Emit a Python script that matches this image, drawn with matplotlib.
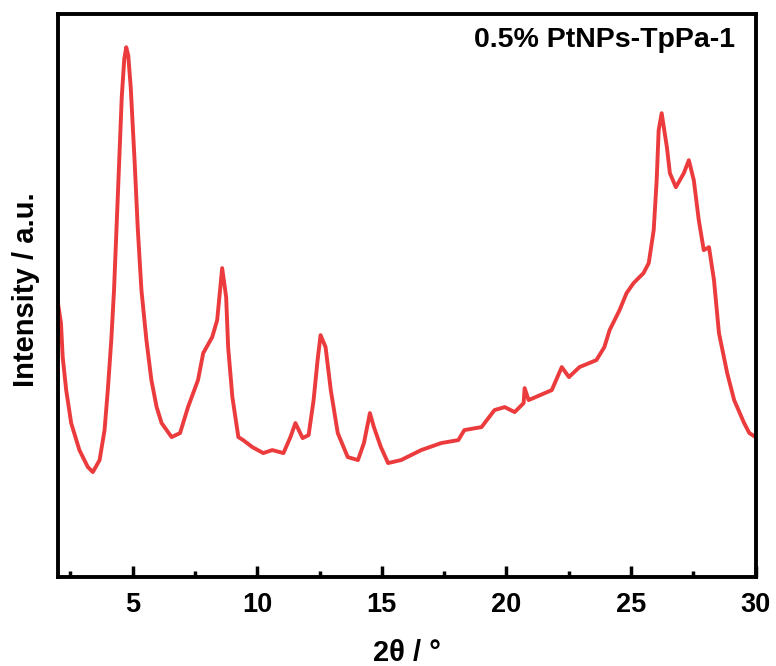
import matplotlib
matplotlib.use("Agg")
import matplotlib.pyplot as plt
from matplotlib.ticker import MultipleLocator

plt.rcParams['font.family'] = ['Liberation Sans', 'DejaVu Sans']
plt.rcParams['font.weight'] = 'bold'

two_theta = [2.00, 2.12, 2.19, 2.33, 2.53, 2.86, 3.20, 3.40, 3.67, 3.87, 4.00,
             4.14, 4.25, 4.40, 4.56, 4.66, 4.74, 4.82, 4.92, 5.08, 5.20, 5.35,
             5.55, 5.75, 5.96, 6.16, 6.56, 6.90, 7.22, 7.62, 7.83,
             8.19, 8.39, 8.59, 8.75, 8.83, 9.00, 9.24, 9.43, 9.80, 10.24, 10.6,
             11.05, 11.33, 11.53, 11.82, 12.06, 12.26, 12.42, 12.54, 12.74,
             12.95, 13.23, 13.63, 14.04, 14.28, 14.52, 14.68, 14.96, 15.25,
             15.77, 16.58, 17.38, 18.07, 18.31, 19.00, 19.52, 19.93, 20.33,
             20.69, 20.73, 20.89, 21.82, 22.22, 22.51, 22.93, 23.61, 23.93,
             24.14, 24.34, 24.54, 24.82, 25.10, 25.50, 25.71, 25.91, 26.03,
             26.11, 26.23, 26.44, 26.56, 26.80, 27.12, 27.32, 27.52, 27.72,
             27.92, 28.13, 28.33, 28.53, 28.86, 29.14, 29.54, 29.75, 30.00]
intensity = [274, 254, 220, 187, 154, 127, 110, 105, 117, 147, 187,
             237, 287, 380, 480, 518, 530, 522, 490, 414, 350, 287,
             237, 197, 170, 154, 140, 144, 170, 197, 224,
             240, 257, 309, 280, 230, 180, 140, 137, 130, 124, 127,
             124, 140, 154, 139, 142, 177, 217, 242, 230,
             187, 144, 120, 117, 134, 164, 150, 130, 114,
             117, 127, 134, 137, 147, 150, 167, 170, 165,
             174, 189, 177, 187, 210, 200, 210, 217, 230,
             247, 257, 267, 284, 294, 304, 314, 347, 397,
             447, 464, 430, 404, 390, 404, 417, 397, 357,
             327, 330, 297, 244, 204, 177, 154, 144, 140]

fig = plt.figure(figsize=(7.76, 6.66), dpi=100)
ax = fig.add_axes([0.0747, 0.1336, 0.899, 0.845])

ax.plot(two_theta, intensity, color='#EB3B3D', linewidth=2.8)

ax.set_xlim(2, 30)
ax.set_ylim(0, 563)
ax.xaxis.set_major_locator(MultipleLocator(5))
ax.xaxis.set_minor_locator(MultipleLocator(2.5))
ax.tick_params(axis='x', which='major', direction='in', length=8, width=2.5,
               labelsize=19.5, pad=11)
ax.tick_params(axis='x', which='minor', direction='in', length=4, width=2.5)
ax.set_yticks([])
for s in ax.spines.values():
    s.set_linewidth(2.8)

ax.set_xlabel('2θ / °', fontsize=21, fontweight='bold', labelpad=15)
ax.set_ylabel('Intensity / a.u.', fontsize=21, fontweight='bold')
ax.yaxis.set_label_coords(-0.026, 0.51)
ax.text(0.97, 0.954, '0.5% PtNPs-TpPa-1', transform=ax.transAxes,
        ha='right', va='center', fontsize=20.5, fontweight='bold')

fig.savefig('out.png', dpi=100)
